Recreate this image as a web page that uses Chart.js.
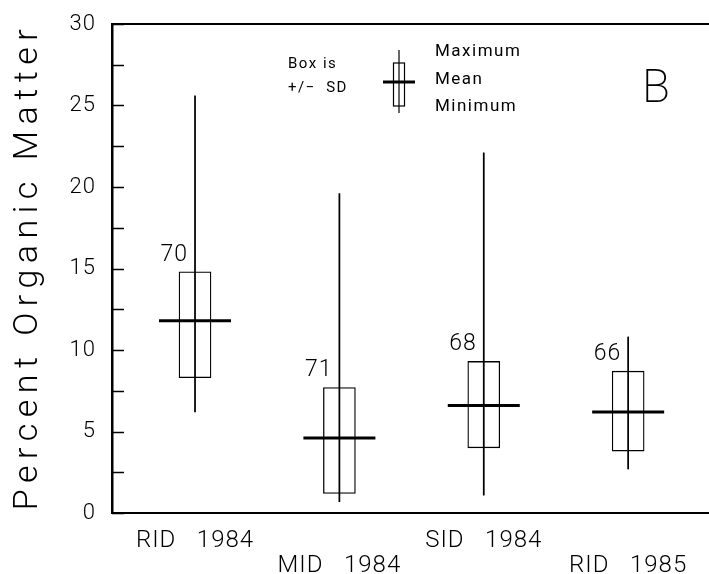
<!DOCTYPE html>
<html>
<head>
<meta charset="utf-8">
<script src="https://cdn.jsdelivr.net/npm/chart.js@4"></script>
<style>
  html, body { margin: 0; padding: 0; background: #fff; }
  canvas { display: block; }
</style>
</head>
<body>
<canvas id="chart" width="709" height="574"></canvas>
<script>
// values (percent organic matter)
const categories = ["RID   1984", "MID   1984", "SID   1984", "RID   1985"]
const counts = [70, 71, 68, 66]
const minimum = [6.2, 0.7, 1.1, 2.7]
const maximum = [25.6, 19.6, 22.1, 10.8]
const mean = [11.8, 4.6, 6.6, 6.2]
const sdLow = [8.3, 1.2, 4.0, 3.8]
const sdHigh = [14.8, 7.7, 9.3, 8.7]
const yTicks = [0, 5, 10, 15, 20, 25, 30]

const FONT = "Roboto, 'Liberation Sans', sans-serif"
const xPos = categories.map((c, i) => i + 1)

// the old plotter lettering is widely spaced
const spacing = {
  id: "spacing",
  beforeDraw(chart) { chart.ctx.letterSpacing = "1px" },
  afterDraw(chart) { chart.ctx.letterSpacing = "0px" }
}

// inward tick marks, axis title, the n= labels, the key and the panel letter
const decorations = {
  id: "decorations",
  afterDatasetsDraw(chart) {
    const { ctx, chartArea, scales: { x, y } } = chart
    ctx.save()
    ctx.strokeStyle = "#000"
    ctx.fillStyle = "#000"

    // ticks pointing into the plot every 2.5
    ctx.lineWidth = 1.5
    y.ticks.forEach(t => {
      const py = Math.round(y.getPixelForValue(t.value)) + 0.5
      ctx.beginPath()
      ctx.moveTo(chartArea.left, py)
      ctx.lineTo(chartArea.left + 12, py)
      ctx.stroke()
    })

    // y axis title
    ctx.save()
    ctx.translate(28, (chartArea.top + chartArea.bottom) / 2)
    ctx.rotate(-Math.PI / 2)
    ctx.font = `300 34px ${FONT}`
    ctx.letterSpacing = "6.5px"
    ctx.textAlign = "center"
    ctx.textBaseline = "middle"
    ctx.fillText("Percent Organic Matter", 2, 0)
    ctx.restore()

    // sample sizes above each box
    ctx.font = `300 23px ${FONT}`
    ctx.textAlign = "right"
    ctx.textBaseline = "alphabetic"
    counts.forEach((n, i) => {
      ctx.fillText(String(n), x.getPixelForValue(xPos[i]) - 7, y.getPixelForValue(sdHigh[i]) - 11)
    })

    // key
    const kx = chartArea.left + 287
    const ky = chartArea.top
    ctx.lineWidth = 1.2
    ctx.beginPath()
    ctx.moveTo(kx, ky + 26); ctx.lineTo(kx, ky + 89)
    ctx.stroke()
    ctx.strokeRect(kx - 5.5, ky + 39, 11, 43)
    ctx.lineWidth = 3
    ctx.beginPath()
    ctx.moveTo(kx - 16, ky + 58); ctx.lineTo(kx + 16, ky + 58)
    ctx.stroke()

    ctx.textAlign = "left"
    ctx.textBaseline = "middle"
    ctx.letterSpacing = "1.5px"
    ctx.font = `400 17px ${FONT}`
    ctx.fillText("Maximum", kx + 36, ky + 28)
    ctx.fillText("Mean", kx + 36, ky + 56)
    ctx.fillText("Minimum", kx + 36, ky + 83)
    ctx.font = `400 15px ${FONT}`
    ctx.fillText("Box is", chartArea.left + 176, ky + 40)
    ctx.fillText("+/\u2212  SD", chartArea.left + 176, ky + 64)

    ctx.letterSpacing = "0px"
    ctx.font = `200 46px ${FONT}`
    ctx.textAlign = "center"
    ctx.fillText("B", chartArea.left + 544, ky + 66)
    ctx.restore()
  }
}

new Chart(document.getElementById("chart"), {
  type: "bar",
  data: {
    datasets: [
      {
        label: "SD box",
        data: xPos.map((v, i) => ({ x: v, y: [sdLow[i], sdHigh[i]] })),
        backgroundColor: "#fff",
        borderColor: "#000",
        borderWidth: 1.3,
        borderSkipped: false,
        barThickness: 32,
        grouped: false,
        order: 3
      },
      {
        label: "Range",
        data: xPos.map((v, i) => ({ x: v, y: [minimum[i], maximum[i]] })),
        backgroundColor: "#000",
        borderWidth: 0,
        barThickness: 1.1,
        grouped: false,
        order: 2
      },
      {
        type: "scatter",
        label: "Mean",
        data: xPos.map((v, i) => ({ x: v, y: mean[i] })),
        pointStyle: "line",
        radius: 36,
        borderColor: "#000",
        borderWidth: 3,
        order: 1
      }
    ]
  },
  options: {
    responsive: false,
    animation: false,
    devicePixelRatio: 1,
    layout: { autoPadding: false, padding: { top: 24, right: 0, left: 0, bottom: 0 } },
    plugins: { legend: { display: false }, tooltip: { enabled: false } },
    scales: {
      x: {
        type: "linear",
        min: 0.425,
        max: 4.56,
        offset: false,
        grid: { display: false, offset: false },
        border: { display: true, color: "#000", width: 2 },
        afterBuildTicks: s => { s.ticks = xPos.map(v => ({ value: v })) },
        afterFit: s => { s.height = 61; s.paddingLeft = 0; s.paddingRight = 0 },
        ticks: {
          padding: 8,
          color: "#000",
          autoSkip: false,
          maxRotation: 0,
          font: { family: FONT, size: 24, weight: 300, lineHeight: 1.04 },
          callback: (v, i) => (i % 2 ? ["", categories[i]] : categories[i])
        }
      },
      xTop: {
        type: "linear",
        position: "top",
        min: 0.425,
        max: 4.56,
        grid: { display: false },
        ticks: { display: false },
        border: { display: true, color: "#000", width: 2 },
        afterFit: s => { s.height = 0; s.paddingLeft = 0; s.paddingRight = 0 }
      },
      y: {
        min: 0,
        max: 30,
        grid: { display: false },
        border: { display: true, color: "#000", width: 2.5 },
        afterFit: s => { s.width = 112; s.paddingTop = 0; s.paddingBottom = 0 },
        ticks: {
          stepSize: 2.5,
          padding: 8,
          color: "#000",
          font: { family: FONT, size: 22, weight: 300 },
          callback: v => (yTicks.includes(v) ? v : "")
        }
      }
    }
  },
  plugins: [spacing, decorations]
})
</script>
</body>
</html>
